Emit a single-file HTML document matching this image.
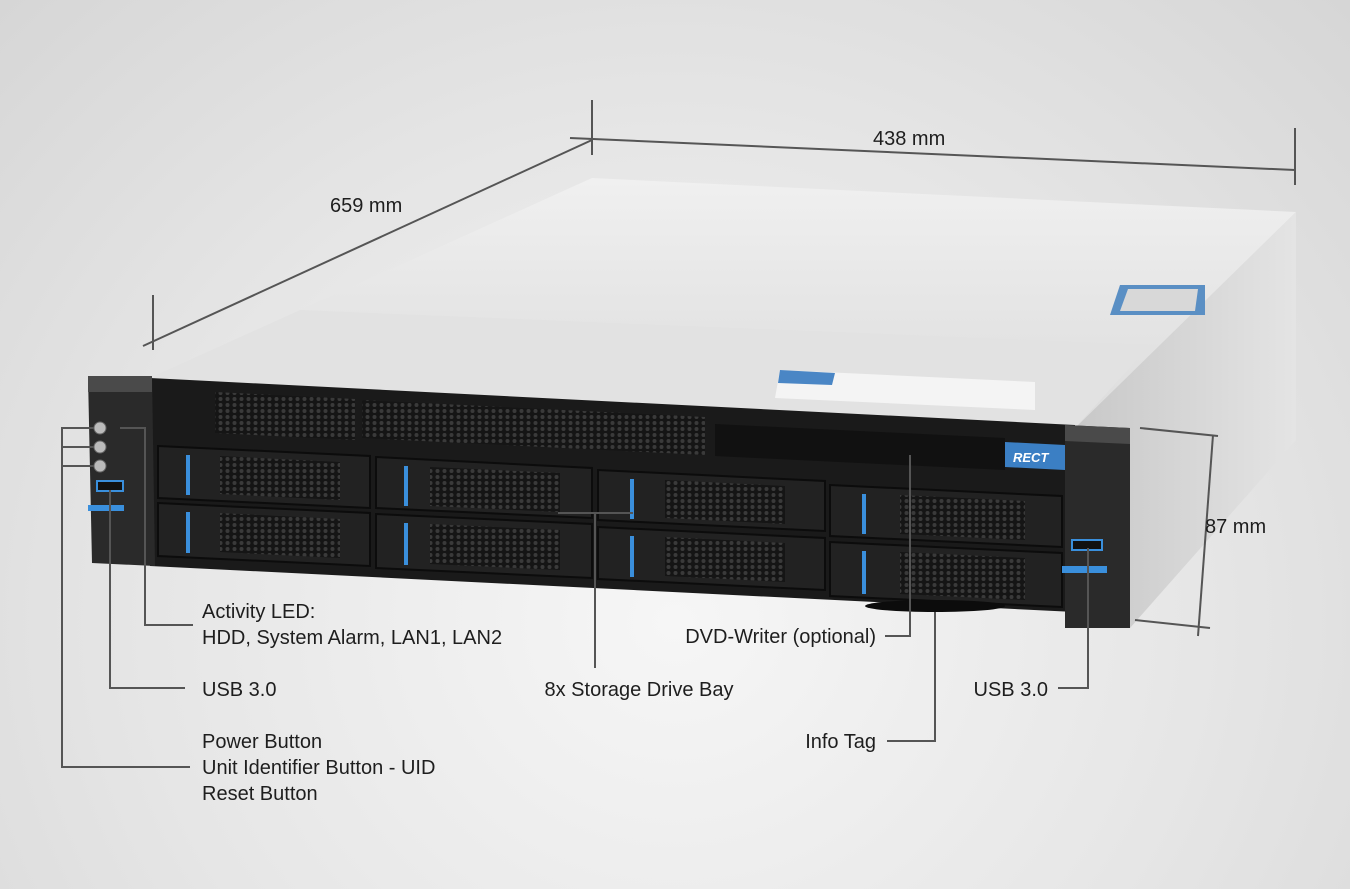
<!DOCTYPE html>
<html><head><meta charset="utf-8"><style>
html,body{margin:0;padding:0;}
body{width:1350px;height:889px;overflow:hidden;background:radial-gradient(ellipse at 50% 70%,#f6f6f6 0%,#e6e6e6 55%,#d6d6d6 100%);font-family:"Liberation Sans",sans-serif;}
svg{position:absolute;left:0;top:0;}
text{font-family:"Liberation Sans",sans-serif;font-size:20px;fill:#1e1e1e;}
</style></head><body>
<svg width="1350" height="889" viewBox="0 0 1350 889">
<defs>
<linearGradient id="top" x1="0" y1="0" x2="0" y2="1"><stop offset="0" stop-color="#f0f0f0"/><stop offset="1" stop-color="#dcdcdc"/></linearGradient>
<linearGradient id="side" x1="0" y1="0" x2="1" y2="0"><stop offset="0" stop-color="#c8c8c8"/><stop offset="1" stop-color="#e4e4e4"/></linearGradient>
<pattern id="hex" width="7" height="6" patternUnits="userSpaceOnUse"><rect width="7" height="6" fill="#151515"/><circle cx="3.5" cy="3" r="2" fill="#3a3a3a"/></pattern>
</defs>
<!-- top surface -->
<polygon points="150,378 592,178 1296,212 1075,428" fill="url(#top)"/>
<polygon points="150,378 300,310 1150,345 1075,428" fill="#e2e2e2"/>
<!-- right side -->
<polygon points="1075,428 1296,212 1296,440 1130,628" fill="url(#side)"/>
<polygon points="1120,285 1205,285 1205,315 1110,315" fill="#5a8fc4"/>
<polygon points="1128,289 1198,289 1195,311 1120,311" fill="#d8d8d8"/>
<!-- front bezel -->
<polygon points="150,378 1075,425 1075,612 150,566" fill="#1a1a1a"/>
<polygon points="215,392 355,399 355,440 215,433" fill="url(#hex)"/>
<polygon points="362,400 705,417 705,455 362,438" fill="url(#hex)"/>
<!-- label sticker -->
<polygon points="780,370 1035,382 1035,410 775,398" fill="#f4f4f4"/>
<polygon points="780,370 835,373 832,385 778,383" fill="#4a86c5"/>
<!-- DVD -->
<polygon points="715,424 1005,438 1005,470 715,456" fill="#111"/>
<polygon points="1005,442 1065,445 1065,470 1005,467" fill="#3b7fc4"/>
<text x="1013" y="462" style="font-size:13px;fill:#fff;font-style:italic;font-weight:bold">RECT</text>
<!-- drive bays -->
<g fill="#222" stroke="#0c0c0c" stroke-width="2">
<polygon points="158,446 370,456 370,508 158,498"/>
<polygon points="376,457 592,468 592,518 376,508"/>
<polygon points="598,470 825,481 825,531 598,520"/>
<polygon points="830,485 1062,496 1062,547 830,536"/>
<polygon points="158,503 370,513 370,566 158,556"/>
<polygon points="376,514 592,524 592,578 376,568"/>
<polygon points="598,527 825,538 825,590 598,579"/>
<polygon points="830,542 1062,553 1062,607 830,596"/>
</g>
<g fill="url(#hex)">
<polygon points="220,456 340,462 340,500 220,494"/>
<polygon points="430,467 560,473 560,512 430,506"/>
<polygon points="665,480 785,486 785,524 665,518"/>
<polygon points="900,495 1025,501 1025,540 900,534"/>
<polygon points="220,513 340,519 340,558 220,552"/>
<polygon points="430,524 560,530 560,570 430,564"/>
<polygon points="665,537 785,543 785,582 665,576"/>
<polygon points="900,552 1025,558 1025,600 900,594"/>
</g>
<g stroke="#3a8fdc" stroke-width="4">
<line x1="188" y1="455" x2="188" y2="495"/><line x1="406" y1="466" x2="406" y2="506"/><line x1="632" y1="479" x2="632" y2="519"/><line x1="864" y1="494" x2="864" y2="534"/>
<line x1="188" y1="512" x2="188" y2="553"/><line x1="406" y1="523" x2="406" y2="565"/><line x1="632" y1="536" x2="632" y2="577"/><line x1="864" y1="551" x2="864" y2="594"/>
</g>
<ellipse cx="935" cy="606" rx="70" ry="6" fill="#0c0c0c"/>
<!-- ears -->
<polygon points="88,376 152,376 155,566 92,563" fill="#2a2a2a"/>
<polygon points="88,376 152,376 152,392 88,392" fill="#4a4a4a"/>
<circle cx="100" cy="428" r="6" fill="#bbb" stroke="#666"/>
<circle cx="100" cy="447" r="6" fill="#bbb" stroke="#666"/>
<circle cx="100" cy="466" r="6" fill="#bbb" stroke="#666"/>
<rect x="97" y="481" width="26" height="10" fill="#111" stroke="#3a8fdc" stroke-width="2"/>
<rect x="88" y="505" width="36" height="6" fill="#3a8fdc"/>
<polygon points="1065,425 1130,428 1130,628 1065,628" fill="#2a2a2a"/>
<polygon points="1065,425 1130,428 1130,444 1065,441" fill="#4a4a4a"/>
<rect x="1072" y="540" width="30" height="10" fill="#111" stroke="#3a8fdc" stroke-width="2"/>
<rect x="1062" y="566" width="45" height="7" fill="#3a8fdc"/>
<!-- dimension lines -->
<g stroke="#555" stroke-width="2" fill="none">
<line x1="143" y1="346" x2="592" y2="140"/>
<line x1="153" y1="295" x2="153" y2="350"/>
<line x1="592" y1="100" x2="592" y2="155"/>
<line x1="570" y1="138" x2="1295" y2="170"/>
<line x1="1295" y1="128" x2="1295" y2="185"/>
<line x1="1213" y1="435" x2="1198" y2="636"/>
<line x1="1140" y1="428" x2="1218" y2="436"/>
<line x1="1135" y1="620" x2="1210" y2="628"/>
</g>
<text x="330" y="212">659 mm</text>
<text x="873" y="145">438 mm</text>
<text x="1205" y="533">87 mm</text>
<!-- leaders -->
<g stroke="#555" stroke-width="2" fill="none">
<polyline points="120,428 145,428 145,625 193,625"/>
<polyline points="110,490 110,688 185,688"/>
<polyline points="94,428 62,428 62,767 190,767"/>
<line x1="62" y1="447" x2="94" y2="447"/>
<line x1="62" y1="466" x2="94" y2="466"/>
<polyline points="558,513 633,513"/>
<line x1="595" y1="513" x2="595" y2="668"/>
<polyline points="910,455 910,636 885,636"/>
<polyline points="935,612 935,741 887,741"/>
<polyline points="1088,548 1088,688 1058,688"/>
</g>
<text x="202" y="618">Activity LED:</text>
<text x="202" y="644">HDD, System Alarm, LAN1, LAN2</text>
<text x="202" y="696">USB 3.0</text>
<text x="202" y="748">Power Button</text>
<text x="202" y="774">Unit Identifier Button - UID</text>
<text x="202" y="800">Reset Button</text>
<text x="639" y="696" text-anchor="middle">8x Storage Drive Bay</text>
<text x="876" y="643" text-anchor="end">DVD-Writer (optional)</text>
<text x="876" y="748" text-anchor="end">Info Tag</text>
<text x="1048" y="696" text-anchor="end">USB 3.0</text>
</svg>
</body></html>
